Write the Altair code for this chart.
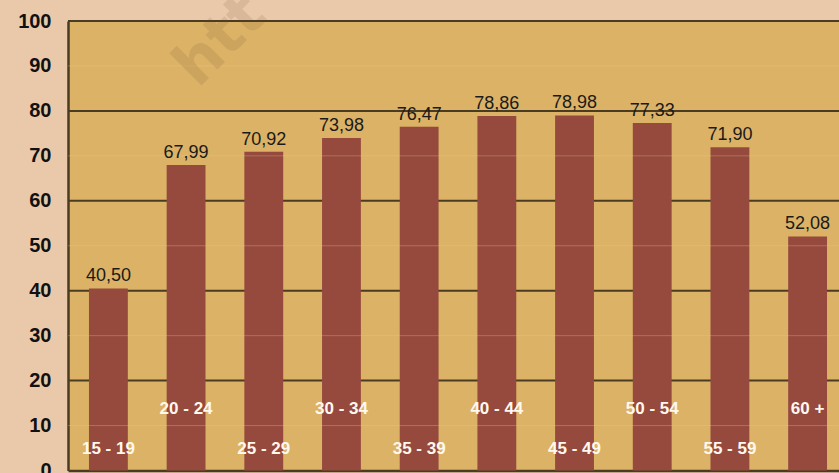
import altair as alt
import pandas as pd

groups = ["15 - 19", "20 - 24", "25 - 29", "30 - 34", "35 - 39",
          "40 - 44", "45 - 49", "50 - 54", "55 - 59", "60 +"]
values = [40.50, 67.99, 70.92, 73.98, 76.47, 78.86, 78.98, 77.33, 71.90, 52.08]
value_labels = ["40,50", "67,99", "70,92", "73,98", "76,47",
                "78,86", "78,98", "77,33", "71,90", "52,08"]
y_ticks = [0, 10, 20, 30, 40, 50, 60, 70, 80, 90, 100]
major_grid = [20, 40, 60, 80, 100]
minor_grid = [10, 30, 50, 70, 90]

df = pd.DataFrame({"group": groups, "value": values, "label": value_labels,
                   "idx": list(range(len(groups)))})
major_df = pd.DataFrame({"value": major_grid})
minor_df = pd.DataFrame({"value": minor_grid})

FONT = "Liberation Sans"
PLOT_BG = "#DBB266"
OUTER_BG = "#EAC9AA"
BAR = "#964A3E"
DARK = "#4a3c22"

y_axis = alt.Axis(values=y_ticks, grid=False, ticks=False, domain=True,
                  domainColor=DARK, domainWidth=2.5,
                  labelFont=FONT, labelFontWeight="bold", labelFontSize=20,
                  labelColor="#111111", labelPadding=17, title=None)
y_scale = alt.Scale(domain=[0, 100], nice=False)
x_axis = alt.Axis(labels=False, ticks=False, title=None,
                  domainColor=DARK, domainWidth=2.5)
x_scale = alt.Scale(range=[0, 780], paddingInner=0.5, paddingOuter=0.27)


def Y(field):
    return alt.Y(field, scale=y_scale, axis=y_axis)


def X():
    return alt.X("group:N", sort=groups, scale=x_scale, axis=x_axis)


major = alt.Chart(major_df).mark_rule(color=DARK, strokeWidth=2).encode(
    y=Y("value:Q")
)

bars = alt.Chart(df).mark_bar(color=BAR).encode(x=X(), y=Y("value:Q"))

minor = alt.Chart(minor_df).mark_rule(color="#f3c98a", strokeWidth=1, opacity=0.3).encode(
    y=Y("value:Q")
)

value_text = alt.Chart(df).mark_text(
    font=FONT, fontSize=18, color="#1a1a1a", baseline="bottom", dy=-3
).encode(x=X(), y=Y("value:Q"), text="label:N")

cat_text = alt.Chart(df).transform_calculate(
    ly="datum.idx % 2 == 0 ? 4.8 : 13.7"
).mark_text(
    font=FONT, fontSize=17, fontWeight="bold", color="#fff8ee", baseline="middle"
).encode(x=X(), y=Y("ly:Q"), text="group:N")

watermark = alt.Chart(pd.DataFrame({"t": ["htt"]})).mark_text(
    font="DejaVu Sans", fontSize=60, fontWeight="bold", color="#6b4a2a",
    opacity=0.13, angle=315, align="left", baseline="alphabetic"
).encode(x=alt.value(130), y=alt.value(68), text="t:N")

chart = alt.layer(major, bars, minor, value_text, cat_text, watermark).properties(
    width=771, height=449.5,
    autosize=alt.AutoSizeParams(type="none"),
    padding={"left": 68, "top": 21, "right": 0, "bottom": 2.5},
    background=OUTER_BG,
).configure_view(fill=PLOT_BG, strokeWidth=0)

chart.save("out.html", embed_options={"renderer": "svg", "actions": False})
